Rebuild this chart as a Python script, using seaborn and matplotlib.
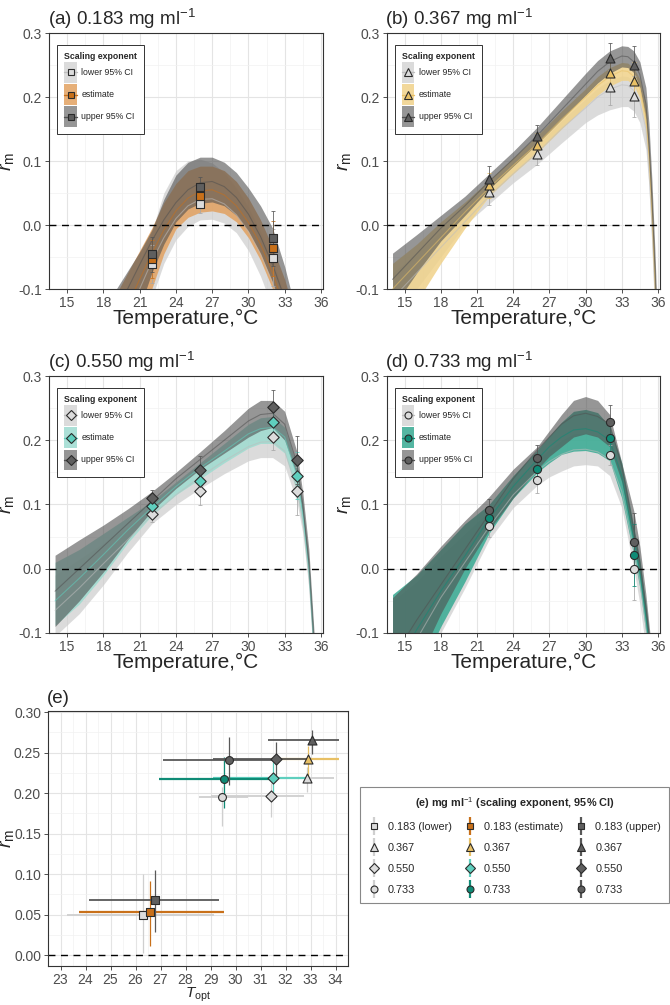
import numpy as np
import matplotlib
matplotlib.use("Agg")
import matplotlib.pyplot as plt
from matplotlib.patches import Patch
from matplotlib.lines import Line2D
from matplotlib.legend_handler import HandlerLine2D
from matplotlib.ticker import FormatStrFormatter
import seaborn as sns

# ---------------- data ----------------
# panel (a) 0.183 mg/ml : fitted curves (mid line, ribbon lo, ribbon hi)
A_T = [19, 20, 21, 22, 23, 24, 25, 26, 27, 28, 29, 30, 31, 32, 33, 34]
A_LOWER = dict(mid=[-0.19, -0.145, -0.1, -0.057, -0.02, 0.01, 0.03, 0.04, 0.041, 0.033, 0.016, -0.01, -0.045, -0.09, -0.145, -0.21],
               lo=[-0.33, -0.25, -0.18, -0.115, -0.06, -0.023, -0.002, 0.008, 0.009, 0.003, -0.012, -0.04, -0.08, -0.13, -0.19, -0.26],
               hi=[-0.14, -0.1, -0.058, -0.01, 0.05, 0.085, 0.1, 0.103, 0.097, 0.082, 0.058, 0.028, -0.01, -0.055, -0.11, -0.17])
A_EST = dict(mid=[-0.17, -0.125, -0.085, -0.045, -0.008, 0.022, 0.042, 0.053, 0.055, 0.047, 0.03, 0.004, -0.03, -0.075, -0.13, -0.195],
             lo=[-0.32, -0.24, -0.17, -0.1, -0.045, -0.006, 0.012, 0.02, 0.022, 0.018, 0.005, -0.02, -0.055, -0.1, -0.16, -0.23],
             hi=[-0.11, -0.075, -0.04, -0.005, 0.035, 0.065, 0.085, 0.092, 0.092, 0.085, 0.068, 0.042, 0.008, -0.035, -0.085, -0.15])
A_UPPER = dict(mid=[-0.14, -0.1, -0.062, -0.025, 0.008, 0.035, 0.055, 0.066, 0.068, 0.06, 0.043, 0.017, -0.018, -0.062, -0.115, -0.18],
               lo=[-0.26, -0.19, -0.13, -0.075, -0.03, 0.005, 0.025, 0.034, 0.036, 0.03, 0.015, -0.01, -0.045, -0.09, -0.15, -0.22],
               hi=[-0.102, -0.072, -0.042, -0.008, 0.04, 0.078, 0.098, 0.106, 0.106, 0.098, 0.082, 0.058, 0.03, -0.005, -0.065, -0.14])
A_PT_T = [22, 26, 32]
A_PT = dict(lower=[-0.061, 0.033, -0.051], est=[-0.053, 0.046, -0.036], upper=[-0.046, 0.059, -0.021])
A_ERR = dict(lower=[0.03, 0.015, 0.045], est=[0.03, 0.02, 0.043], upper=[0.027, 0.016, 0.043])

# panel (b) 0.367 mg/ml
B_T = [14, 16, 18, 20, 22, 24, 26, 28, 30, 31, 32, 33, 33.5, 34, 34.5, 35, 35.25, 35.5, 35.75, 36]
B_LOWER = dict(mid=[-0.115, -0.075, -0.035, 0.005, 0.045, 0.08, 0.113, 0.15, 0.183, 0.2, 0.212, 0.219, 0.218, 0.21, 0.192, 0.15, 0.09, 0.0, -0.11, -0.24],
               lo=[-0.15, -0.1, -0.05, 0.0, 0.033, 0.066, 0.095, 0.128, 0.16, 0.172, 0.18, 0.185, 0.185, 0.178, 0.16, 0.118, 0.06, -0.03, -0.14, -0.27],
               hi=[-0.075, -0.045, -0.01, 0.022, 0.058, 0.093, 0.126, 0.163, 0.197, 0.214, 0.226, 0.233, 0.232, 0.224, 0.206, 0.165, 0.105, 0.018, -0.09, -0.22])
B_EST = dict(mid=[-0.1, -0.06, -0.02, 0.02, 0.058, 0.093, 0.127, 0.165, 0.2, 0.218, 0.232, 0.241, 0.24, 0.232, 0.213, 0.17, 0.11, 0.02, -0.09, -0.22],
             lo=[-0.17, -0.12, -0.06, -0.005, 0.045, 0.08, 0.113, 0.15, 0.186, 0.203, 0.217, 0.226, 0.226, 0.218, 0.198, 0.15, 0.09, -0.005, -0.115, -0.24],
             hi=[-0.06, -0.03, 0.005, 0.036, 0.07, 0.105, 0.14, 0.178, 0.213, 0.232, 0.246, 0.254, 0.253, 0.245, 0.228, 0.19, 0.13, 0.045, -0.065, -0.2])
B_UPPER = dict(mid=[-0.085, -0.045, -0.005, 0.03, 0.068, 0.103, 0.14, 0.18, 0.22, 0.24, 0.255, 0.264, 0.263, 0.255, 0.235, 0.19, 0.13, 0.04, -0.07, -0.2],
               lo=[-0.13, -0.075, -0.025, 0.015, 0.056, 0.092, 0.127, 0.165, 0.203, 0.222, 0.237, 0.247, 0.246, 0.238, 0.215, 0.165, 0.1, 0.01, -0.1, -0.23],
               hi=[-0.044, -0.015, 0.015, 0.045, 0.08, 0.115, 0.153, 0.195, 0.237, 0.257, 0.272, 0.28, 0.279, 0.272, 0.255, 0.215, 0.16, 0.07, -0.04, -0.17])
B_PT_T = [22, 26, 32, 34]
B_PT = dict(lower=[0.052, 0.111, 0.215, 0.201], est=[0.062, 0.125, 0.238, 0.225], upper=[0.072, 0.139, 0.261, 0.25])
B_ERR = dict(lower=[0.02, 0.017, 0.027, 0.032], est=[0.02, 0.018, 0.025, 0.03], upper=[0.02, 0.017, 0.024, 0.03])

# panel (c) 0.550 mg/ml
C_T = [14, 16, 18, 20, 22, 24, 26, 28, 30, 31, 32, 33, 34, 34.5, 35, 35.5, 36]
C_LOWER = dict(mid=[-0.065, -0.03, 0.008, 0.045, 0.083, 0.115, 0.143, 0.168, 0.19, 0.197, 0.198, 0.183, 0.125, 0.075, -0.01, -0.15, -0.3],
               lo=[-0.105, -0.07, -0.025, 0.025, 0.07, 0.1, 0.125, 0.148, 0.168, 0.173, 0.173, 0.16, 0.105, 0.055, -0.03, -0.17, -0.32],
               hi=[-0.01, 0.015, 0.04, 0.065, 0.095, 0.128, 0.16, 0.185, 0.21, 0.218, 0.22, 0.205, 0.145, 0.095, 0.01, -0.13, -0.28])
C_EST = dict(mid=[-0.05, -0.015, 0.022, 0.06, 0.095, 0.128, 0.157, 0.183, 0.21, 0.218, 0.22, 0.205, 0.145, 0.085, 0.0, -0.145, -0.3],
             lo=[-0.088, -0.055, -0.01, 0.04, 0.083, 0.115, 0.14, 0.165, 0.188, 0.195, 0.195, 0.18, 0.12, 0.065, -0.02, -0.165, -0.32],
             hi=[0.01, 0.03, 0.055, 0.08, 0.105, 0.135, 0.165, 0.195, 0.225, 0.235, 0.237, 0.22, 0.16, 0.1, 0.015, -0.13, -0.28])
C_UPPER = dict(mid=[-0.035, 0.0, 0.035, 0.07, 0.105, 0.14, 0.17, 0.2, 0.23, 0.24, 0.242, 0.225, 0.165, 0.1, 0.01, -0.14, -0.3],
               lo=[-0.09, -0.05, -0.005, 0.045, 0.09, 0.125, 0.155, 0.18, 0.205, 0.215, 0.22, 0.2, 0.145, 0.08, -0.01, -0.16, -0.32],
               hi=[0.021, 0.045, 0.068, 0.093, 0.12, 0.15, 0.182, 0.215, 0.25, 0.262, 0.262, 0.245, 0.183, 0.118, 0.03, -0.12, -0.28])
C_PT_T = [22, 26, 32, 34]
C_PT = dict(lower=[0.085, 0.121, 0.205, 0.121], est=[0.098, 0.137, 0.228, 0.145], upper=[0.11, 0.153, 0.252, 0.169])
C_ERR = dict(lower=[0.012, 0.022, 0.02, 0.037], est=[0.012, 0.02, 0.024, 0.037], upper=[0.013, 0.022, 0.026, 0.037])

# panel (d) 0.733 mg/ml
D_T = [14, 16, 18, 20, 22, 24, 26, 27, 28, 29, 30, 31, 32, 33, 34, 34.5, 35, 35.5, 36]
D_LOWER = dict(mid=[-0.175, -0.11, -0.045, 0.01, 0.065, 0.115, 0.152, 0.167, 0.178, 0.185, 0.186, 0.182, 0.17, 0.12, 0.03, -0.02, -0.09, -0.17, -0.26],
               lo=[-0.3, -0.19, -0.1, -0.03, 0.045, 0.095, 0.13, 0.143, 0.152, 0.16, 0.162, 0.16, 0.145, 0.095, 0.0, -0.055, -0.125, -0.2, -0.29],
               hi=[-0.05, -0.02, 0.02, 0.055, 0.09, 0.135, 0.17, 0.186, 0.2, 0.21, 0.212, 0.207, 0.195, 0.145, 0.06, 0.01, -0.06, -0.145, -0.23])
D_EST = dict(mid=[-0.16, -0.095, -0.035, 0.02, 0.078, 0.128, 0.17, 0.19, 0.205, 0.216, 0.218, 0.213, 0.2, 0.145, 0.045, -0.005, -0.075, -0.155, -0.25],
             lo=[-0.28, -0.17, -0.09, -0.02, 0.055, 0.11, 0.15, 0.165, 0.178, 0.183, 0.184, 0.18, 0.168, 0.11, 0.02, -0.03, -0.1, -0.18, -0.27],
             hi=[-0.04, -0.01, 0.03, 0.07, 0.1, 0.145, 0.185, 0.207, 0.228, 0.245, 0.248, 0.243, 0.222, 0.165, 0.065, 0.015, -0.055, -0.14, -0.23])
D_UPPER = dict(mid=[-0.14, -0.08, -0.025, 0.03, 0.085, 0.14, 0.185, 0.205, 0.225, 0.238, 0.242, 0.237, 0.225, 0.16, 0.06, 0.01, -0.06, -0.14, -0.24],
               lo=[-0.25, -0.15, -0.07, 0.0, 0.06, 0.11, 0.155, 0.175, 0.19, 0.205, 0.21, 0.205, 0.19, 0.135, 0.04, -0.01, -0.08, -0.16, -0.26],
               hi=[-0.045, -0.008, 0.035, 0.075, 0.112, 0.155, 0.19, 0.215, 0.24, 0.262, 0.268, 0.262, 0.24, 0.165, 0.09, 0.035, -0.04, -0.13, -0.22])
D_PT_T = [22, 26, 32, 34]
D_PT = dict(lower=[0.067, 0.138, 0.177, 0.0], est=[0.079, 0.155, 0.203, 0.021], upper=[0.091, 0.172, 0.228, 0.042])
D_ERR = dict(lower=[0.018, 0.02, 0.015, 0.048], est=[0.016, 0.02, 0.025, 0.048], upper=[0.018, 0.02, 0.027, 0.045])

# panel (e): optimum temperature and max rate per concentration (0.183, 0.367, 0.550, 0.733)
CONC = ["0.183", "0.367", "0.550", "0.733"]
E_LOWER = dict(topt=[26.3, 32.85, 31.4, 29.45], rm=[0.050, 0.219, 0.196, 0.195],
               topt_lo=[23.25, 31.6, 29.0, 28.55], topt_hi=[29.15, 33.95, 32.75, 30.5],
               rm_lo=[0.002, 0.202, 0.171, 0.16], rm_hi=[0.1, 0.232, 0.212, 0.208])
E_EST = dict(topt=[26.57, 32.9, 31.5, 29.55], rm=[0.0527, 0.242, 0.219, 0.2175],
             topt_lo=[23.74, 31.4, 29.1, 26.95], topt_hi=[29.53, 34.15, 32.9, 31.4],
             rm_lo=[0.0114, 0.22, 0.2, 0.182], rm_hi=[0.092, 0.258, 0.238, 0.245])
E_UPPER = dict(topt=[26.78, 33.05, 31.6, 29.75], rm=[0.068, 0.266, 0.242, 0.2405],
               topt_lo=[24.12, 31.3, 29.1, 27.1], topt_hi=[29.33, 34.15, 32.9, 31.7],
               rm_lo=[0.0286, 0.249, 0.22, 0.21], rm_hi=[0.105, 0.278, 0.263, 0.269])

# ---------------- style ----------------
sns.set_theme(style="whitegrid")
plt.rcParams["font.family"] = ["Liberation Sans", "DejaVu Sans"]
plt.rcParams["mathtext.fontset"] = "custom"
plt.rcParams["mathtext.rm"] = "Liberation Sans"
plt.rcParams["mathtext.it"] = "Liberation Sans:italic"
plt.rcParams["axes.unicode_minus"] = True

LOW_FILL, LOW_LINE, LOW_PT = "#CDCDCD", "#BDBDBD", "#DCDCDC"
UP_FILL, UP_LINE, UP_PT = "#505050", "#505050", "#5F5F5F"
EST_FILL = {"a": "#E2A160", "b": "#F0D28A", "c": "#9EDBD0", "d": "#36AA92"}
EST_PT = {"a": "#C8701A", "b": "#E8C065", "c": "#5FCFBE", "d": "#0F8B76"}
MARKERS = {"a": "s", "b": "^", "c": "D", "d": "o"}


class CenteredLine(HandlerLine2D):
    """Line/marker key drawn at the middle of a tall legend key box."""

    def create_artists(self, legend, orig_handle, xdescent, ydescent, width, height, fontsize, trans):
        artists = super().create_artists(legend, orig_handle, xdescent, ydescent, width, height,
                                         fontsize, trans)
        for a in artists:
            a.set_ydata(np.asarray(a.get_ydata(), dtype=float) - ydescent / 2)
        return artists


W, H = 670, 1005
fig = plt.figure(figsize=(W / 100, H / 100), dpi=100)
fig.patch.set_facecolor("white")


def px_axes(left, top, right, bottom):
    return fig.add_axes([left / W, 1 - bottom / H, (right - left) / W, (bottom - top) / H])


def style_axes(ax):
    ax.set_axisbelow(True)
    ax.grid(which="major", color="#E4E4E4", lw=0.8)
    ax.grid(which="minor", color="#F1F1F1", lw=0.5)
    for s in ax.spines.values():
        s.set_color("#333333")
        s.set_linewidth(0.8)
    ax.tick_params(which="major", length=3, width=0.6, color="#333333",
                   labelcolor="#4D4D4D", labelsize=10, pad=2, bottom=True, left=True)
    ax.tick_params(which="minor", length=0)


def tpc_panel(ax, key, title, T, lower, est, upper, pt_t, pts, errs, label_x_px):
    fills = [(lower, LOW_FILL, 0.7), (est, EST_FILL[key], 0.85), (upper, UP_FILL, 0.6)]
    for cur, fc, a in fills:
        ax.fill_between(T, cur["lo"], cur["hi"], color=fc, alpha=a, lw=0)
    for cur, lc in [(lower, LOW_LINE), (est, EST_PT[key]), (upper, UP_LINE)]:
        sns.lineplot(x=T, y=cur["mid"], ax=ax, color=lc, lw=0.8, alpha=0.55, legend=False)
    ax.axhline(0, color="black", lw=1.0, ls=(0, (5, 4)), zorder=4)
    m = MARKERS[key]
    for name, ec in [("lower", "#A8A8A8"), ("est", EST_PT[key]), ("upper", "#555555")]:
        ax.errorbar(pt_t, pts[name], yerr=errs[name], fmt="none", ecolor=ec, elinewidth=0.7,
                    capsize=1.5, capthick=0.7, alpha=0.8, zorder=5)
    for name, fc in [("lower", LOW_PT), ("est", EST_PT[key]), ("upper", UP_PT)]:
        sns.scatterplot(x=pt_t, y=pts[name], ax=ax, marker=m, s=34 if m != "^" else 42,
                        color=fc, edgecolor="#2B2B2B", linewidth=0.8, zorder=6, legend=False)

    ax.set_xlim(14.03, 36.17)
    ax.set_ylim(-0.1, 0.3)
    ax.set_xticks(np.arange(15, 37, 3))
    ax.set_xticks(np.arange(13.5, 37, 3), minor=True)
    ax.set_yticks([-0.1, 0.0, 0.1, 0.2, 0.3])
    ax.set_yticks([-0.05, 0.05, 0.15, 0.25], minor=True)
    ax.yaxis.set_major_formatter(FormatStrFormatter("%.1f"))
    style_axes(ax)

    pos = ax.get_position()
    wpx, hpx = pos.width * W, pos.height * H
    ax.set_xlabel("Temperature,°C", fontsize=15)
    ax.set_ylabel(r"$r_{\mathrm{m}}$", fontsize=14)
    ax.xaxis.set_label_coords(0.5, -20 / hpx)
    ax.yaxis.set_label_coords(-label_x_px / wpx, 0.5)
    ax.set_title(title, loc="left", fontsize=13.5, pad=6, x=-0.005)

    handles = []
    for fc, a, lc, pc in [(LOW_FILL, 0.7, LOW_LINE, LOW_PT), (EST_FILL[key], 0.85, EST_PT[key], EST_PT[key]),
                          (UP_FILL, 0.6, UP_LINE, UP_PT)]:
        handles.append((Patch(facecolor=fc, alpha=a, edgecolor="none"),
                        Line2D([], [], color=lc, lw=1.0, marker=m, markersize=5 if m != "^" else 6,
                               markerfacecolor=pc, markeredgecolor="#2B2B2B", markeredgewidth=0.8)))
    leg = ax.legend(handles, ["lower 95% CI", "estimate", "upper 95% CI"], title="Scaling exponent",
                    loc="upper left", bbox_to_anchor=(0.03, 0.955), borderaxespad=0, fontsize=6.3,
                    title_fontproperties={"weight": "bold", "size": 6.3}, handlelength=1.45,
                    handleheight=3.2, labelspacing=0.2, handletextpad=0.5, borderpad=0.8,
                    handler_map={Line2D: CenteredLine()},
                    frameon=True, fancybox=False, edgecolor="#333333", framealpha=1)
    leg.get_frame().set_linewidth(0.7)
    leg._legend_box.align = "left"


ax_a = px_axes(49, 33, 323, 289)
tpc_panel(ax_a, "a", "(a) 0.183 mg ml$^{-1}$", A_T, A_LOWER, A_EST, A_UPPER, A_PT_T, A_PT, A_ERR, 33)
ax_b = px_axes(386.5, 33, 660, 289)
tpc_panel(ax_b, "b", "(b) 0.367 mg ml$^{-1}$", B_T, B_LOWER, B_EST, B_UPPER, B_PT_T, B_PT, B_ERR, 33.5)
ax_c = px_axes(49, 376, 323, 633)
tpc_panel(ax_c, "c", "(c) 0.550 mg ml$^{-1}$", C_T, C_LOWER, C_EST, C_UPPER, C_PT_T, C_PT, C_ERR, 33)
ax_d = px_axes(386.5, 376, 660, 633)
tpc_panel(ax_d, "d", "(d) 0.733 mg ml$^{-1}$", D_T, D_LOWER, D_EST, D_UPPER, D_PT_T, D_PT, D_ERR, 33.5)

# ---------------- panel (e) ----------------
ax_e = px_axes(48, 711, 348, 966)
ax_e.axhline(0, color="black", lw=1.0, ls=(0, (5, 4)), zorder=1)
keys = ["a", "b", "c", "d"]
groups = [("lower", E_LOWER, "#CFCFCF", 1.3), ("est", E_EST, None, 1.6), ("upper", E_UPPER, "#585858", 1.3)]
for gname, g, gc, hlw in groups:
    for i, k in enumerate(keys):
        c = gc if gc is not None else EST_PT[k]
        x, y = g["topt"][i], g["rm"][i]
        ax_e.errorbar([x], [y], xerr=[[x - g["topt_lo"][i]], [g["topt_hi"][i] - x]],
                      fmt="none", ecolor=c, elinewidth=hlw, capsize=0, zorder=2)
        ax_e.errorbar([x], [y], yerr=[[y - g["rm_lo"][i]], [g["rm_hi"][i] - y]],
                      fmt="none", ecolor=c, elinewidth=0.9, capsize=0, zorder=2)
for gname, g, gc, hlw in groups:
    for i, k in enumerate(keys):
        fc = {"lower": LOW_PT, "upper": UP_PT}.get(gname, EST_PT[k])
        sns.scatterplot(x=[g["topt"][i]], y=[g["rm"][i]], ax=ax_e, marker=MARKERS[k],
                        s=32 if MARKERS[k] != "^" else 42, color=fc, edgecolor="#2B2B2B",
                        linewidth=0.8, zorder=4, legend=False)

ax_e.set_xlim(22.81, 34.29)
ax_e.set_ylim(-0.0135, 0.3015)
ax_e.set_xticks(np.arange(23, 35, 1))
ax_e.set_xticks(np.arange(22.5, 34.6, 1), minor=True)
ax_e.set_yticks(np.arange(0, 0.31, 0.05))
ax_e.set_yticks(np.arange(0.025, 0.3, 0.05), minor=True)
ax_e.yaxis.set_major_formatter(FormatStrFormatter("%.2f"))
style_axes(ax_e)
ax_e.set_xlabel(r"$T_{\mathrm{opt}}$", fontsize=11)
ax_e.set_ylabel(r"$r_{\mathrm{m}}$", fontsize=14)
ax_e.yaxis.set_label_coords(-32 / 300, 0.5)
ax_e.xaxis.set_label_coords(0.5, -20 / 255)
ax_e.set_title("(e)", loc="left", fontsize=13.5, pad=6, x=-0.005)

# legend for (e): columns = lower / estimate / upper
e_handles, e_labels = [], []
for gname, gc, tag in [("lower", "#CFCFCF", "lower"), ("est", None, "estimate"), ("upper", "#585858", "upper")]:
    for i, k in enumerate(keys):
        c = gc if gc is not None else EST_PT[k]
        fc = {"lower": LOW_PT, "upper": UP_PT}.get(gname, EST_PT[k])
        e_handles.append((Line2D([], [], color=c, marker="|", markersize=13, markeredgewidth=1.6, ls="none"),
                          Line2D([], [], marker=MARKERS[k], markersize=5 if MARKERS[k] != "^" else 6,
                                 markerfacecolor=fc, markeredgecolor="#2B2B2B", markeredgewidth=0.8, ls="none")))
        e_labels.append(f"{CONC[i]} ({tag})" if i == 0 else CONC[i])
leg_e = fig.legend(e_handles, e_labels, ncol=3, loc="upper left",
                   bbox_to_anchor=(360 / W, 1 - 902 / H, 309 / W, 115 / H), mode="expand",
                   borderaxespad=0, fontsize=7.8, title="(e) mg ml$^{-1}$ (scaling exponent, 95% CI)",
                   title_fontproperties={"weight": "bold", "size": 7.8}, handlelength=1.0,
                   handletextpad=0.8, labelspacing=1.02, columnspacing=1.0, borderpad=0.75,
                   frameon=True, fancybox=False, edgecolor="#888888", framealpha=1)
leg_e.get_frame().set_linewidth(0.8)

fig.savefig("out.png", dpi=100, facecolor="white")
